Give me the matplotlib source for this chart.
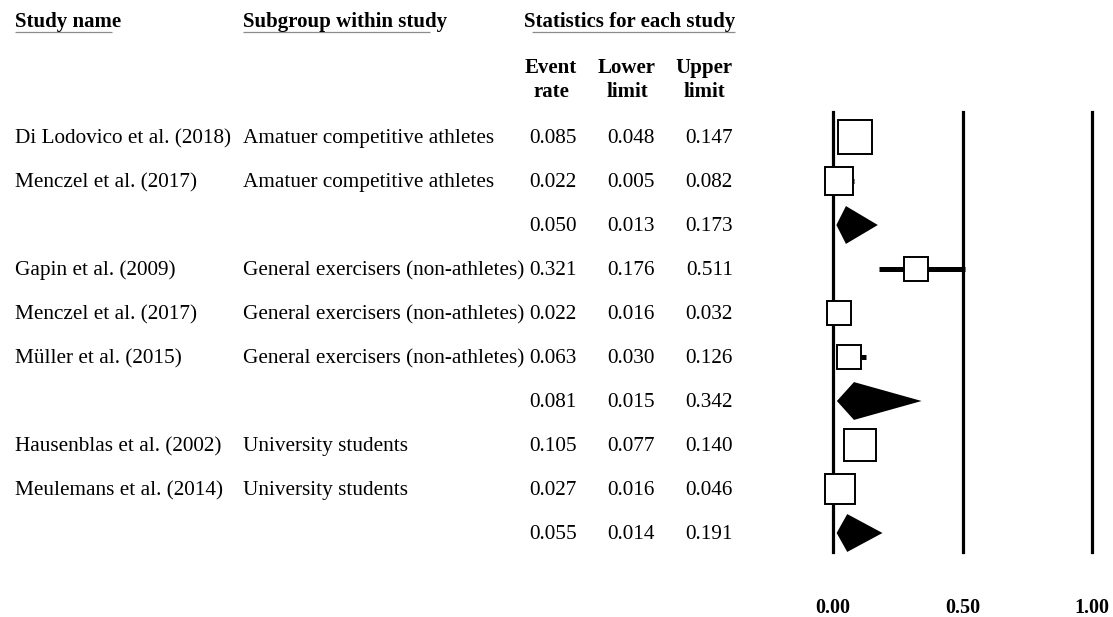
import matplotlib
matplotlib.use("Agg")
import matplotlib.pyplot as plt
import numpy as np

# ---------------- data ----------------
studies = ["Di Lodovico et al. (2018)", "Menczel et al. (2017)", "",
           "Gapin et al. (2009)", "Menczel et al. (2017)", "Müller et al. (2015)", "",
           "Hausenblas et al. (2002)", "Meulemans et al. (2014)", ""]
subgroups = ["Amatuer competitive athletes", "Amatuer competitive athletes", "",
             "General exercisers (non-athletes)", "General exercisers (non-athletes)",
             "General exercisers (non-athletes)", "",
             "University students", "University students", ""]
event_rate = [0.085, 0.022, 0.050, 0.321, 0.022, 0.063, 0.081, 0.105, 0.027, 0.055]
lower_limit = [0.048, 0.005, 0.013, 0.176, 0.016, 0.030, 0.015, 0.077, 0.016, 0.014]
upper_limit = [0.147, 0.082, 0.173, 0.511, 0.032, 0.126, 0.342, 0.140, 0.046, 0.191]
is_summary = [False, False, True, False, False, False, True, False, False, True]
rel_weight = [12.3, 8.4, 0, 6.8, 6.8, 6.3, 0, 10.9, 10.2, 0]
x_ticks = [0.0, 0.5, 1.0]
x_tick_labels = ["0.00", "0.50", "1.00"]

# ---------------- figure ----------------
W, H = 1113, 617
DPI = 100
plt.rcParams['font.family'] = ['Liberation Serif', 'DejaVu Serif']
fig = plt.figure(figsize=(W / DPI, H / DPI), dpi=DPI)
fig.patch.set_facecolor("white")

# text overlay axes in pixel coordinates
tax = fig.add_axes([0, 0, 1, 1])
tax.set_xlim(0, W)
tax.set_ylim(H, 0)
tax.axis("off")

body_fs = 15.3
head_fs = 15.0

# headers
tax.text(15, 27, "Study name", fontsize=head_fs, fontweight="bold", ha="left", va="baseline")
tax.text(243, 27, "Subgroup within study", fontsize=head_fs, fontweight="bold", ha="left", va="baseline")
tax.text(524, 27, "Statistics for each study", fontsize=head_fs, fontweight="bold", ha="left", va="baseline")
for x0, x1 in [(15, 112), (243, 430), (532, 735)]:
    tax.plot([x0, x1], [32, 32], color="#8c8c8c", lw=0.9, solid_capstyle="butt")

col_centers = [551, 627, 704]
col_rights = [577, 655, 733]
for xc, (l1, l2) in zip(col_centers, [("Event", "rate"), ("Lower", "limit"), ("Upper", "limit")]):
    tax.text(xc, 73, l1, fontsize=head_fs, fontweight="bold", ha="center", va="baseline")
    tax.text(xc, 97, l2, fontsize=head_fs, fontweight="bold", ha="center", va="baseline")

row0_base = 143
row_step = 44
for i in range(len(event_rate)):
    yb = row0_base + row_step * i
    if studies[i]:
        tax.text(15, yb, studies[i], fontsize=body_fs, ha="left", va="baseline")
    if subgroups[i]:
        tax.text(243, yb, subgroups[i], fontsize=body_fs, ha="left", va="baseline")
    for xr, v in zip(col_rights, (event_rate[i], lower_limit[i], upper_limit[i])):
        tax.text(xr, yb, f"{v:.3f}", fontsize=body_fs, ha="right", va="baseline")

# forest plot axes
left_px, right_px = 833, 1092
top_px, bot_px = 112, 552
row0_center = 137
fax = fig.add_axes([left_px / W, 1 - bot_px / H, (right_px - left_px) / W, (bot_px - top_px) / H])
fax.set_xlim(0, 1)
n = len(event_rate)
fax.set_ylim((bot_px - row0_center) / row_step, -(row0_center - top_px) / row_step)
fax.patch.set_alpha(0)
for s in fax.spines.values():
    s.set_visible(False)
fax.set_yticks([])
fax.set_xticks(x_ticks)
fax.set_xticklabels(x_tick_labels, fontsize=14.5, fontweight="bold")
fax.tick_params(axis="x", length=0, pad=33)

for xv in x_ticks:
    fax.axvline(xv, color="black", lw=2.3, zorder=1, clip_on=False)

px_per_pt = DPI / 72.0
for i in range(n):
    if is_summary[i]:
        h = 0.43
        fax.fill([lower_limit[i], event_rate[i], upper_limit[i], event_rate[i]],
                 [i, i - h, i, i + h], color="black", lw=0, zorder=3, clip_on=False)
    else:
        fax.plot([lower_limit[i], upper_limit[i]], [i, i], color="black", lw=3.6,
                 solid_capstyle="butt", zorder=2, clip_on=False)
        side_px = 9.98 * np.sqrt(rel_weight[i])
        fax.plot([event_rate[i]], [i], marker="s", ms=side_px / px_per_pt - 1.3,
                 mfc="white", mec="black", mew=1.4, zorder=4, clip_on=False)

fig.savefig("out.png", dpi=DPI, facecolor="white")
